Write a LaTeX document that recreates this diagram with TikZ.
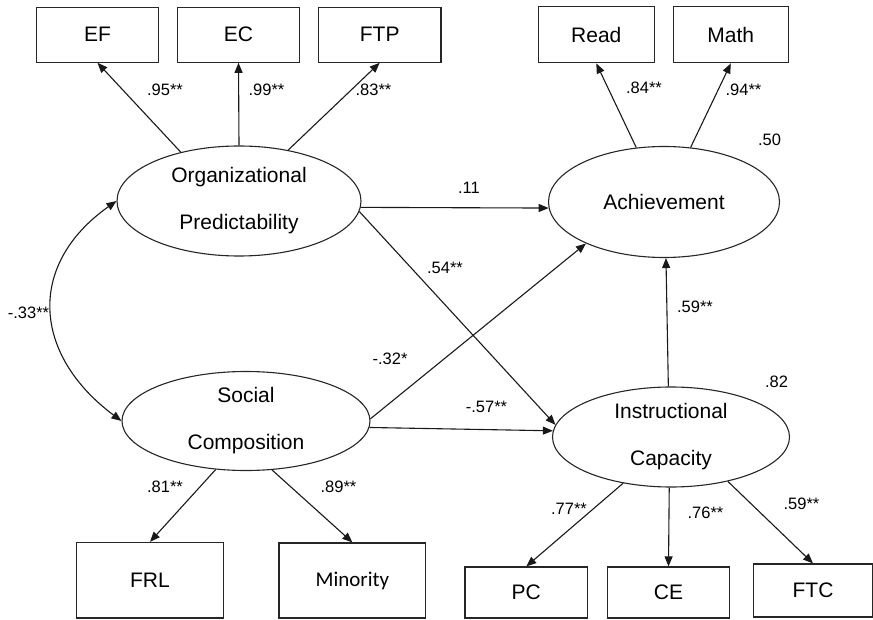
\documentclass[tikz,border=0pt]{standalone}
\usepackage{fontspec}
\setmainfont{Liberation Sans}
\newfontfamily\calibrilike{Carlito}
\usetikzlibrary{shapes.geometric,arrows.meta}
\begin{document}
\begin{tikzpicture}[x=1pt,y=-1pt,
  obs/.style={draw=black!85, line width=1.2pt, rectangle, inner sep=0pt,
    font=\fontsize{21}{25}\selectfont},
  latent/.style={draw=black!85, line width=1.1pt, ellipse, inner sep=0pt,
    align=center, font=\fontsize{21}{47}\selectfont},
  lbl/.style={font=\fontsize{16.5}{18}\selectfont, inner sep=0pt},
  path/.style={line width=1.1pt, draw=black!90, -{Triangle[length=10pt,width=8pt]}},
  cov/.style={line width=1.1pt, draw=black!90,
    {Triangle[length=10pt,width=8pt]}-{Triangle[length=10pt,width=8pt]}}
]
\useasboundingbox (0,0) rectangle (873,620);

% indicator boxes
\node[obs, minimum width=121.6pt, minimum height=55pt] (ef)  at (97.5,34.7)  {EF};
\node[obs, minimum width=121.6pt, minimum height=55pt] (ec)  at (238.5,34.7) {EC};
\node[obs, minimum width=122.7pt, minimum height=55pt] (ftp) at (379.7,34.7) {FTP};
\node[obs, minimum width=116pt, minimum height=56pt] (read) at (596.3,34.8) {Read};
\node[obs, minimum width=115pt, minimum height=56pt] (math) at (730.8,34.8) {Math};
\node[obs, minimum width=146.6pt, minimum height=75.5pt] (frl) at (150,580.2) {FRL};
\node[obs, minimum width=146.7pt, minimum height=75pt, font=\calibrilike\fontsize{21}{25}\selectfont] (minority) at (352.4,580.5) {Minority};
\node[obs, minimum width=122.7pt, minimum height=51pt] (pc)  at (526.3,592.5) {PC};
\node[obs, minimum width=121.6pt, minimum height=51pt] (ce)  at (668.5,592.5) {CE};
\node[obs, minimum width=119.5pt, minimum height=53pt] (ftc) at (813,590.5) {FTC};

% latent variables
\node[latent, minimum width=244pt, minimum height=110pt] (op)  at (239,201) {Organizational\\Predictability};
\node[latent, minimum width=231pt, minimum height=111pt] (ach) at (664,202) {Achievement};
\node[latent, minimum width=248pt, minimum height=99pt]  (sc)  at (246,421) {Social\\Composition};
\node[latent, minimum width=237pt, minimum height=100pt] (ic)  at (671,437) {Instructional\\Capacity};

% measurement paths
\draw[path] (op.140) -- (ef.south);
\draw[path] (op.north) -- (ec.south);
\draw[path] (op.46) -- (ftp.south);
\draw[path] (ach.117) -- (read.south);
\draw[path] (ach.64) -- (math.south);
\draw[path] (sc.238) -- (frl.north);
\draw[path] (sc.-62) -- (minority.north);
\draw[path] (ic.224) -- (pc.north);
\draw[path] (ic.-92) -- (ce.north);
\draw[path] (ic.-38) -- (ftc.north);

% structural paths
\draw[path] (op.-3) -- (ach.183);
\draw[path] (op.-5) -- (ic.174);
\draw[path] (sc.1) -- (ach.208);
\draw[path] (sc.-3) -- (ic.177);
\draw[path] (ic.93) -- (ach.-88);

% correlation between exogenous factors
\draw[cov] (op.west) .. controls (26,265) and (33,355) .. (sc.west);

% coefficients
\node[lbl] (l1)  at (165,90)    {.95**};
\node[lbl] (l2)  at (266.5,90)  {.99**};
\node[lbl] (l3)  at (373.5,90)  {.83**};
\node[lbl] (l4)  at (644,88)    {.84**};
\node[lbl] (l5)  at (743.5,90)  {.94**};
\node[lbl] (l6)  at (769.5,140) {.50};
\node[lbl] (l7)  at (469,188)   {.11};
\node[lbl] (l8)  at (445,268)   {.54**};
\node[lbl] (l9)  at (695,307)   {.59**};
\node[lbl] (l10) at (776.5,382) {.82};
\node[lbl] (l11) at (28.5,313)  {-.33**};
\node[lbl] (l12) at (390,359)   {-.32*};
\node[lbl] (l13) at (486.5,407) {-.57**};
\node[lbl] (l14) at (165,487)   {.81**};
\node[lbl] (l15) at (338.5,487) {.89**};
\node[lbl] (l16) at (569,509)   {.77**};
\node[lbl] (l17) at (705.5,513) {.76**};
\node[lbl] (l18) at (801.5,504) {.59**};
\end{tikzpicture}
\end{document}
